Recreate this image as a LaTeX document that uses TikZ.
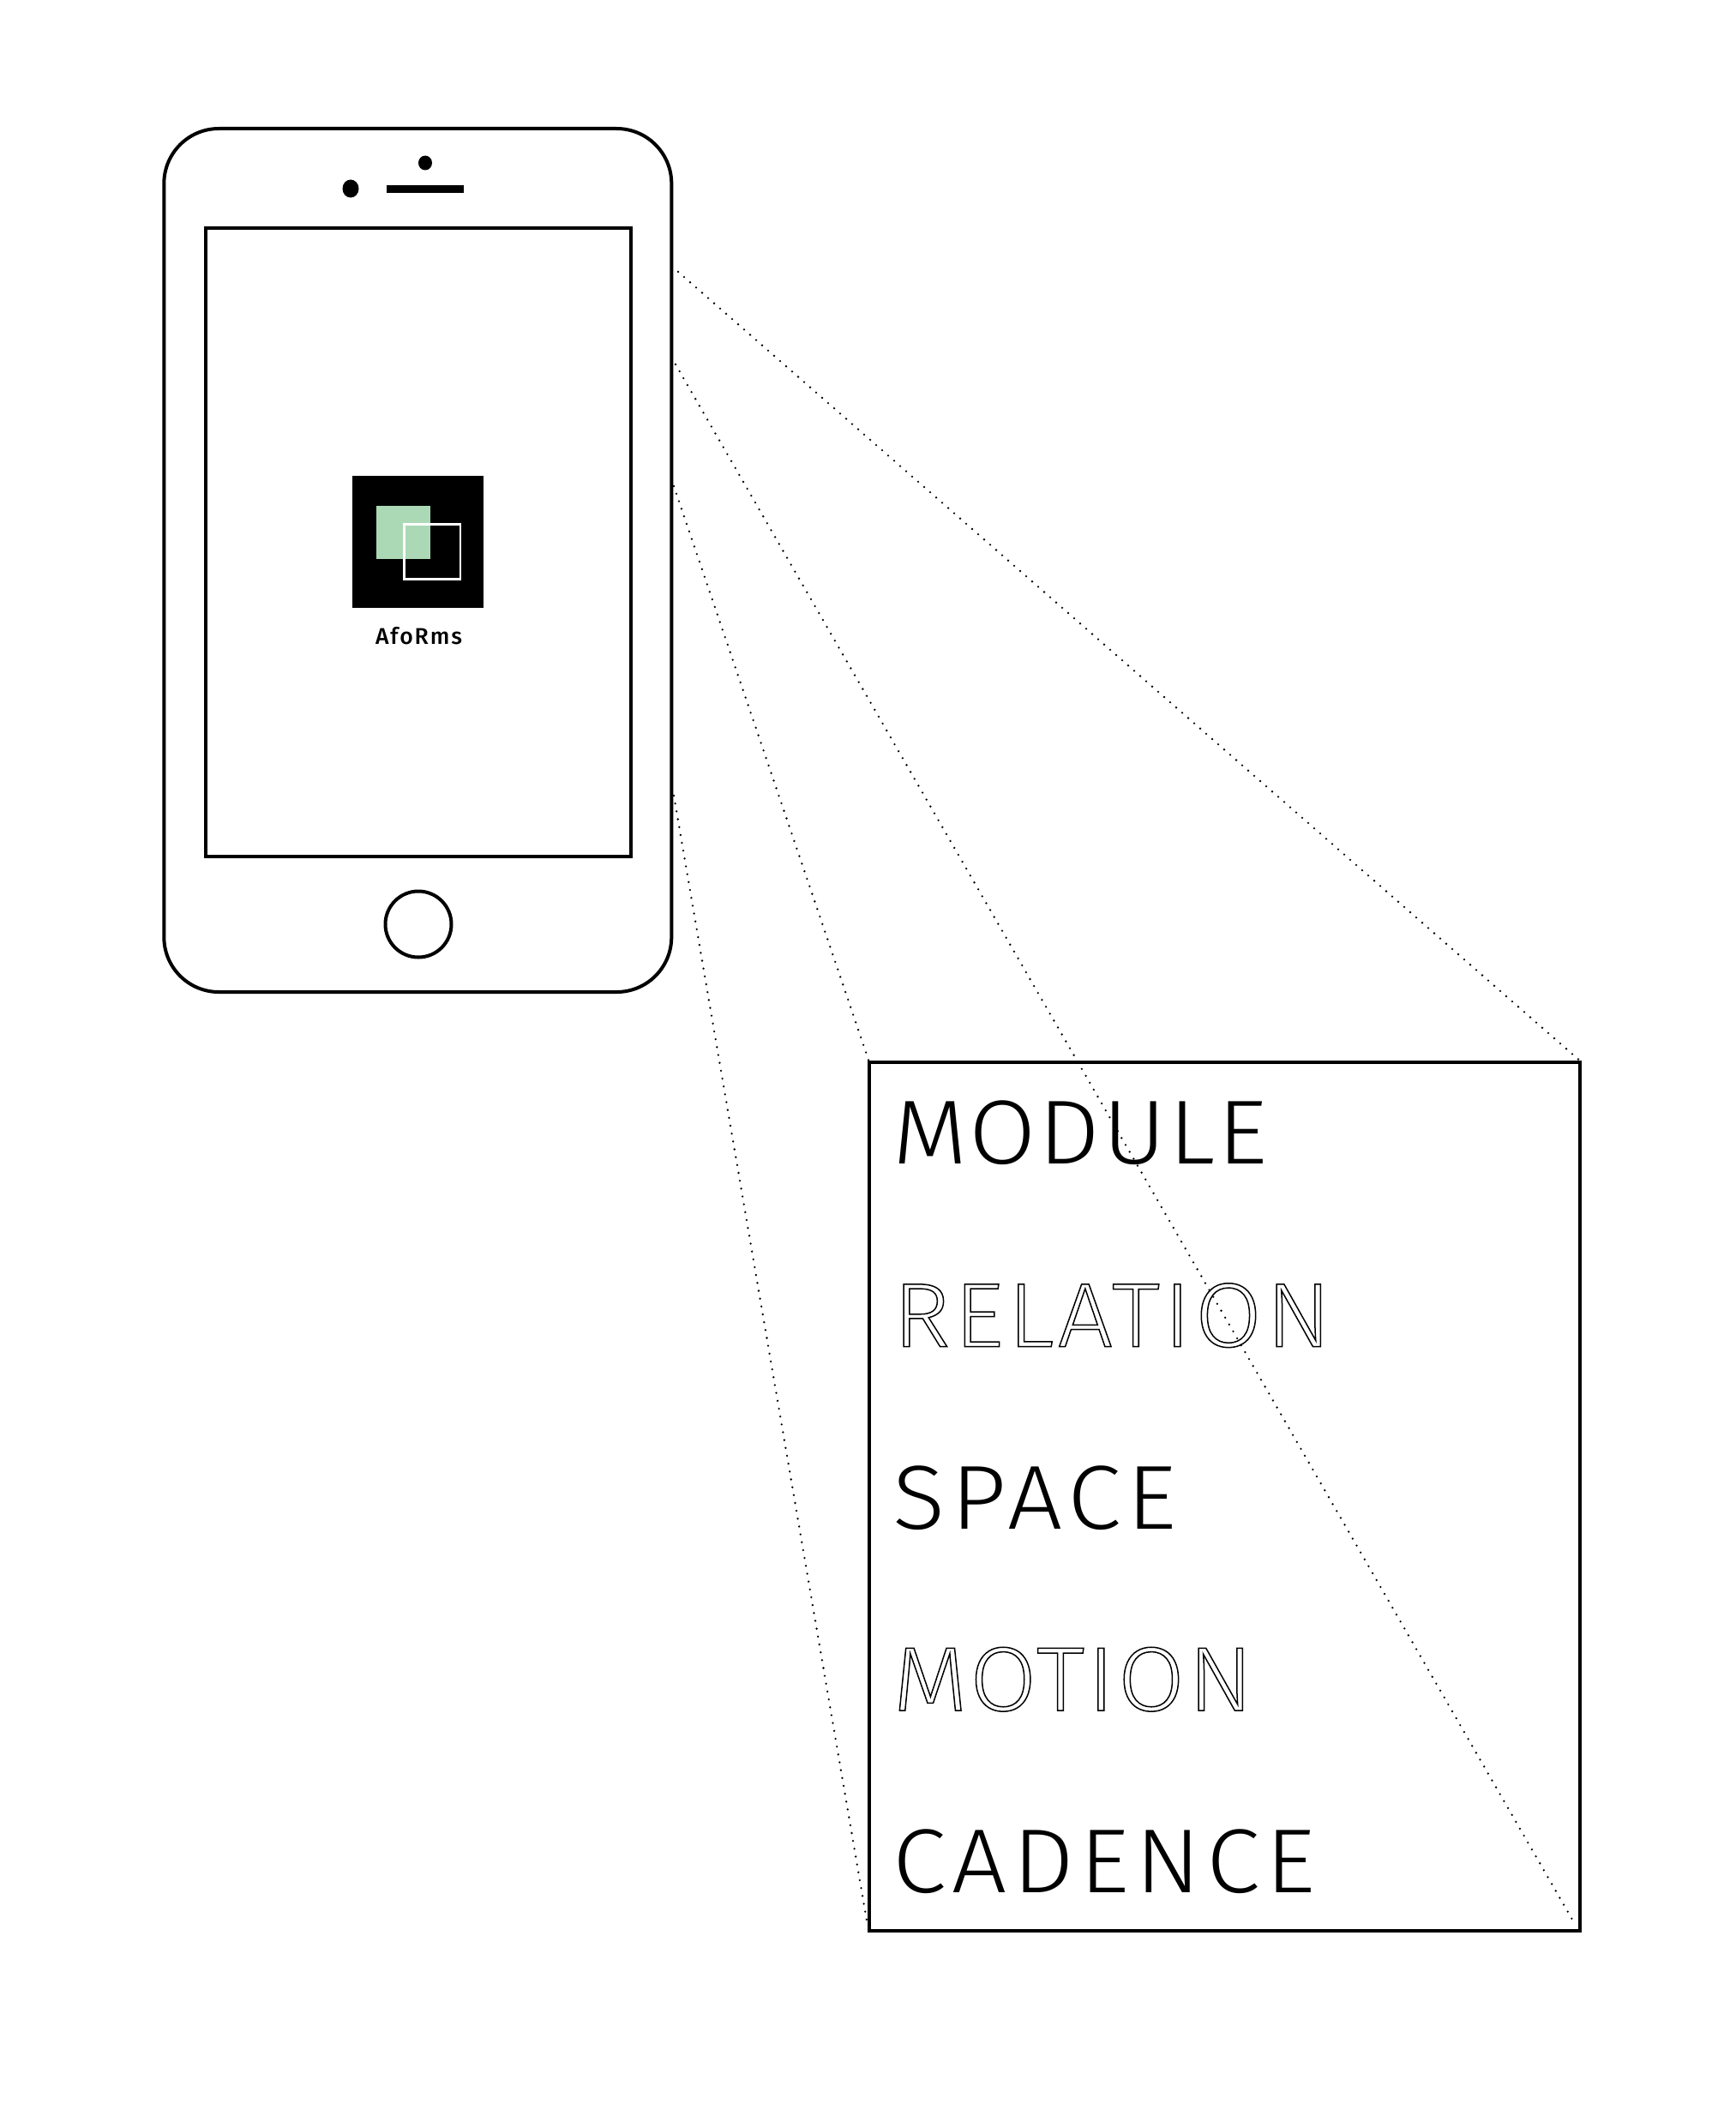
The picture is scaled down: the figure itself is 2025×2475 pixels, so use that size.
\documentclass[tikz,border=0pt]{standalone}
\usepackage{fontspec}
\usetikzlibrary{shapes.geometric}
\newfontfamily\bigfont[FakeStretch=1.07]{Fira Sans Light}
\newfontfamily\iconfont[LetterSpace=7]{Fira Sans Medium}
\definecolor{mintgreen}{HTML}{ABD9B5}
\newcommand{\outlined}[1]{\special{pdf:code 1 Tr 1.5 w}#1\special{pdf:code 0 Tr 1 w}}
\newcommand{\spaced}[2]{\addfontfeatures{LetterSpace=#1}#2}
\tikzset{
  device/.style={draw=black,line width=4pt,fill=none,inner sep=0pt,outer sep=0pt},
  dotline/.style={line width=2.6pt,line cap=round,dash pattern=on 0pt off 9.3pt,black},
  word/.style={anchor=base west,inner sep=0pt,outer sep=0pt,font=\bigfont\fontsize{106}{106}\selectfont},
}
\begin{document}
\begin{tikzpicture}[x=1pt,y=-1pt]
\useasboundingbox (0,0) rectangle (2025,2475);
\fill[white] (0,0) rectangle (2025,2475);
% phone
\node[device,rounded corners=64pt,minimum width=592pt,minimum height=1007pt] (phone) at (487.3,653.5) {};
\node[device,minimum width=496pt,minimum height=733pt] (screen) at (488,632.8) {};
\node[device,circle,minimum size=77pt] (home) at (488,1078) {};
\node[fill=black,ellipse,minimum width=19pt,minimum height=21pt,inner sep=0pt] (camera) at (409,220) {};
\node[fill=black,ellipse,minimum width=16pt,minimum height=17pt,inner sep=0pt] (sensor) at (496,190) {};
\node[fill=black,minimum width=90pt,minimum height=9pt,inner sep=0pt] (speaker) at (496,220) {};
% icon
\node[fill=black,minimum width=153.6pt,minimum height=154pt,inner sep=0pt] (icon) at (487.5,632.3) {};
\node[fill=mintgreen,minimum width=62.4pt,minimum height=62pt,inner sep=0pt] (iconfill) at (470.5,621) {};
\node[draw=white,line width=2.7pt,minimum width=65.5pt,minimum height=64pt,inner sep=0pt] (iconframe) at (504.3,643.5) {};
\node[anchor=base,inner sep=0pt,font=\iconfont\fontsize{26.6}{26.6}\selectfont] (iconlabel) at (488.5,751.7) {AfoRms};
% panel
\node[device,line width=4.3pt,minimum width=828.7pt,minimum height=1013pt] (panel) at (1428.4,1745.5) {};
\node[word] (w1) at (1041.5,1357.7) {\spaced{2.8}{MODULE}};
\node[word] (w2) at (1041.5,1570.5) {\spaced{4.2}{\outlined{RELATION}}};
\node[word] (w3) at (1041.5,1783) {\spaced{6.9}{SPACE}};
\node[word] (w4) at (1041.5,1995) {\spaced{3.2}{\outlined{MOTION}}};
\node[word] (w5) at (1041.5,2207.5) {\spaced{6.3}{CADENCE}};
% dotted connectors
\coordinate (a1) at (791,317);
\coordinate (b1) at (1845,1239);
\coordinate (a2) at (788,425);
\coordinate (b2) at (1837,2244);
\coordinate (a3) at (786,567);
\coordinate (b3) at (1014,1239);
\coordinate (a4) at (786,928);
\coordinate (b4) at (1012,2246);
\draw[dotline] (a1) -- (b1);
\draw[dotline] (a2) -- (b2);
\draw[dotline] (a3) -- (b3);
\draw[dotline] (a4) -- (b4);
\end{tikzpicture}
\end{document}
